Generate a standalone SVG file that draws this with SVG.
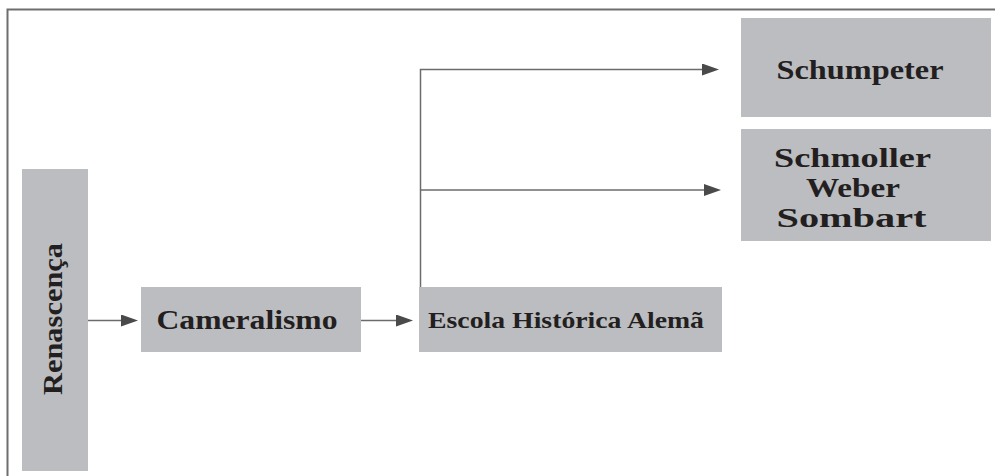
<svg xmlns="http://www.w3.org/2000/svg" width="995" height="476" viewBox="0 0 995 476">
  <style>
    .box { fill: #bcbdc0; }
    .lbl { font-family: "Liberation Serif", "Times New Roman", serif; font-weight: bold; fill: #231f20; text-anchor: middle; }
    .conn { fill: none; stroke: #6b6b6b; stroke-width: 1.5; }
    .frame { fill: none; stroke: #6e6e6e; stroke-width: 2; }
  </style>
  <defs>
    <marker id="arr" markerUnits="userSpaceOnUse" markerWidth="17" markerHeight="12" refX="8" refY="6" orient="auto">
      <path d="M0,0 L17,6 L0,12 Z" fill="#4a4a4a"/>
    </marker>
  </defs>

  <path class="frame" d="M7.5,476 V9.5 H995"/>

  <g id="renascenca">
    <rect class="box" x="22" y="169" width="66" height="302"/>
    <text class="lbl" font-size="27" transform="translate(62,319) rotate(-90)" x="0" y="0" textLength="152" lengthAdjust="spacingAndGlyphs">Renascença</text>
  </g>

  <g id="cameralismo">
    <rect class="box" x="141" y="287" width="220" height="65"/>
    <text class="lbl" font-size="28" x="247" y="329" textLength="181" lengthAdjust="spacingAndGlyphs">Cameralismo</text>
  </g>

  <g id="escola">
    <rect class="box" x="419" y="287" width="303" height="65"/>
    <text class="lbl" font-size="23.5" x="566" y="327.5" textLength="276" lengthAdjust="spacingAndGlyphs">Escola Histórica Alemã</text>
  </g>

  <g id="schumpeter">
    <rect class="box" x="741" y="18" width="250" height="99"/>
    <text class="lbl" font-size="28" x="860" y="79" textLength="167" lengthAdjust="spacingAndGlyphs">Schumpeter</text>
  </g>

  <g id="schmoller">
    <rect class="box" x="741" y="129" width="250" height="112"/>
    <text class="lbl" font-size="28" x="852.5" y="167" textLength="157" lengthAdjust="spacingAndGlyphs">Schmoller</text>
    <text class="lbl" font-size="28" x="853" y="197" textLength="94" lengthAdjust="spacingAndGlyphs">Weber</text>
    <text class="lbl" font-size="28" x="851.5" y="227" textLength="150" lengthAdjust="spacingAndGlyphs">Sombart</text>
  </g>

  <g id="connectors">
    <path class="conn" d="M88,320.5 H129" marker-end="url(#arr)"/>
    <path class="conn" d="M361,320.5 H404" marker-end="url(#arr)"/>
    <path class="conn" d="M420.5,287 V69.5 H710" marker-end="url(#arr)"/>
    <path class="conn" d="M420.5,190 H712" marker-end="url(#arr)"/>
  </g>
</svg>
